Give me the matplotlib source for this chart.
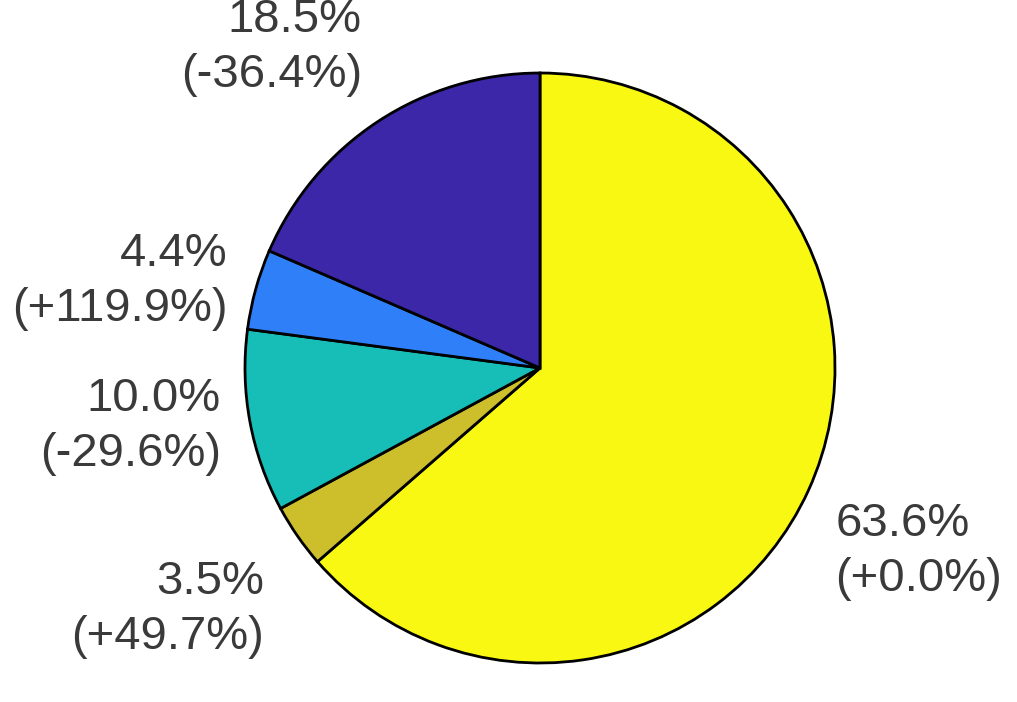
import numpy as np
import matplotlib
matplotlib.use("Agg")
import matplotlib.pyplot as plt

# Data (clockwise from top)
shares = [63.6, 3.5, 10.0, 4.4, 18.5]
changes = ["+0.0%", "+49.7%", "-29.6%", "+119.9%", "-36.4%"]
colors = ["#F8F812", "#CDBF2C", "#17BEB8", "#2F80F8", "#3B27A8"]

W, H = 1017, 702
fig = plt.figure(figsize=(W / 100, H / 100), dpi=100)
ax = fig.add_axes([0, 0, 1, 1])

cx, cy, r = 540, H - 368, 295
wedges, _ = ax.pie(shares, colors=colors, startangle=90, counterclock=False,
                   center=(cx, cy), radius=r, frame=True,
                   wedgeprops=dict(edgecolor="black", linewidth=2.0))
ax.set_xlim(0, W)
ax.set_ylim(0, H)
ax.set_aspect("equal")
ax.axis("off")

label_dist = [1.1, 1.14, 1.1, 1.1, 1.1]
for w, s, c, d in zip(wedges, shares, changes, label_dist):
    ang = np.deg2rad((w.theta1 + w.theta2) / 2)
    x = cx + d * r * np.cos(ang)
    y = cy + d * r * np.sin(ang)
    ha = "left" if np.cos(ang) > 0 else "right"
    sn = np.sin(ang)
    va = "bottom" if sn > 0.5 else ("top" if sn < -0.3 else "center")
    ax.text(x, y, f"{s:.1f}%\n({c})", ha=ha, va=va, fontsize=34,
            color="#3a3a3a", linespacing=1.32,
            family=["Liberation Sans", "DejaVu Sans"],
            multialignment="right" if ha == "right" else "left")

fig.savefig("out.png", dpi=100)
